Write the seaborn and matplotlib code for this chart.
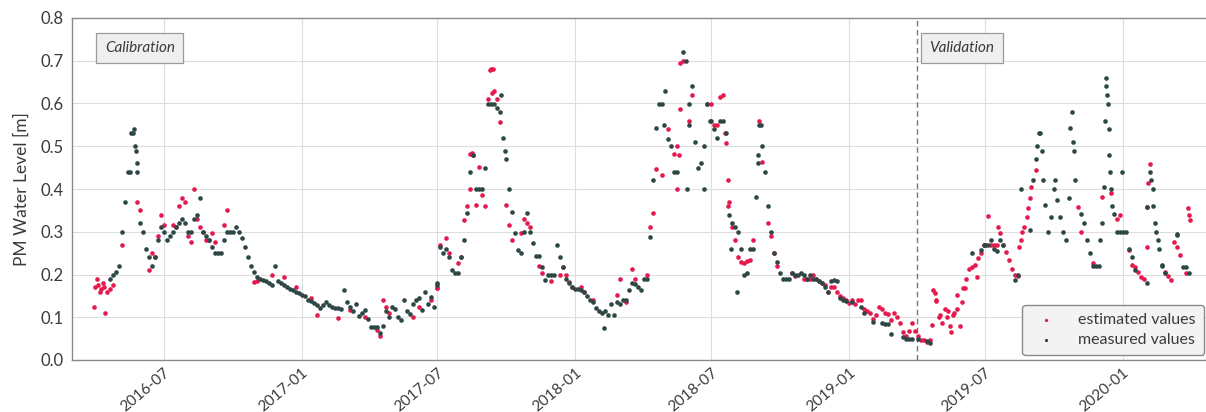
import numpy as np
import pandas as pd
import matplotlib
matplotlib.use("Agg")
import matplotlib.pyplot as plt
import matplotlib.dates as mdates
import seaborn as sns

NA = np.nan

# Water level readings on a 4-day grid, one list per half year (start date first)
seg_starts = ["2016-04-01", "2016-07-01", "2017-01-01", "2017-07-01", "2018-01-01",
              "2018-07-01", "2019-01-01", "2019-07-01", "2020-01-01"]

measured_2016a = [NA, NA, NA, NA, NA, 0.19, 0.20, 0.205, 0.22, 0.30, 0.37, 0.44, 0.53, 0.54, 0.44,
                  0.32, 0.30, 0.26, 0.24, 0.22, 0.24, 0.28, 0.31]
measured_2016b = [0.30, 0.28, 0.29, 0.30, 0.31, 0.32, 0.33, 0.32, 0.30, 0.30,
                  0.33, 0.34, 0.38, 0.30, 0.29, 0.28, 0.265, 0.25, 0.25, 0.25,
                  0.28, 0.30, 0.30, 0.30, 0.31, 0.30, 0.285, 0.265, 0.24, 0.22,
                  0.205, 0.195, 0.19, 0.187, 0.185, 0.18, 0.175, 0.22, 0.185, 0.18,
                  0.175, 0.17, 0.165, 0.163, 0.16, 0.157]
measured_2017a = [0.152, 0.15, 0.14, 0.137, 0.133, 0.128, 0.122, 0.128, 0.135, 0.128,
                  0.124, 0.122, 0.122, 0.12, 0.164, 0.135, 0.125, 0.115, 0.13, 0.102,
                  0.11, 0.117, 0.095, 0.078, 0.078, 0.078, 0.062, 0.08, 0.115, 0.10,
                  0.125, 0.12, 0.10, 0.094, 0.14, 0.115, 0.108, 0.13, 0.14, 0.145,
                  0.117, 0.16, 0.13, 0.148, 0.125, 0.175]
measured_2017b = [0.18, 0.265, 0.25, 0.26, 0.24, 0.21, 0.203, 0.203, 0.24, 0.28,
                  0.345, 0.44, 0.48, 0.40, 0.40, 0.40, 0.45, 0.60, 0.60, 0.60,
                  0.59, 0.58, 0.52, 0.47, 0.40, 0.346, 0.296, 0.257, 0.25, 0.30,
                  0.345, 0.30, 0.273, 0.243, 0.243, 0.217, 0.187, 0.20, 0.20, 0.20,
                  0.27, 0.24, 0.217, 0.19, 0.18, 0.17]
measured_2018a = [0.165, 0.165, 0.164, 0.16, 0.15, 0.14, 0.136, 0.121, 0.115, 0.11,
                  0.115, 0.105, 0.13, 0.105, 0.136, 0.13, 0.14, 0.14, 0.164, 0.18,
                  0.177, 0.17, 0.164, 0.19, 0.19, 0.288, 0.42, 0.542, 0.60, 0.60,
                  0.63, 0.518, 0.50, 0.44, 0.44, NA, 0.72, 0.70, 0.60, 0.64,
                  0.51, 0.45, 0.46, 0.50, 0.60, 0.56]
measured_2018b = [0.56, 0.54, 0.52, 0.56, 0.56, 0.53, 0.34, 0.32, 0.31, 0.30,
                  0.26, 0.20, 0.203, 0.26, 0.26, 0.382, 0.55, 0.50, 0.44, 0.36,
                  0.30, 0.25, 0.23, 0.203, 0.19, 0.19, 0.19, 0.203, 0.20, 0.20,
                  0.203, 0.20, 0.19, 0.20, 0.19, 0.19, 0.185, 0.18, 0.17, 0.16,
                  0.185, 0.186, 0.185, 0.145, 0.14, 0.137]
measured_2019a = [NA, 0.135, NA, NA, 0.125, 0.11, NA, NA, 0.09, NA,
                  NA, 0.086, 0.085, 0.085, 0.06, NA, NA, NA, 0.053, 0.05,
                  0.05, 0.05, NA, 0.05, NA, NA, 0.045, 0.04, NA, NA,
                  NA, NA, NA, NA, NA, NA, NA, NA, NA, NA,
                  NA, 0.25, NA, NA, 0.257, 0.27]
measured_2019b = [0.27, 0.27, 0.28, 0.26, 0.255, 0.28, 0.27, NA, NA, NA,
                  0.187, 0.20, 0.40, NA, NA, 0.304, 0.42, 0.47, 0.53, 0.49,
                  0.363, 0.30, 0.335, 0.40, 0.375, 0.335, 0.30, 0.28, 0.38, 0.58,
                  0.42, NA, 0.342, 0.32, 0.28, 0.25, 0.22, 0.22, 0.22, 0.32,
                  0.56, 0.60, 0.40, 0.342, 0.30, 0.30]
measured_2020a = [0.30, 0.30, 0.26, 0.24, 0.21, NA, NA, NA, 0.18, 0.44,
                  0.36, 0.30, 0.26, 0.22, 0.203, NA, NA, NA, 0.292, NA,
                  0.218, 0.218, 0.203]

estimated_2016a = [0.17, 0.175, 0.165, 0.17, 0.16, 0.165, 0.175, NA, NA, 0.27, NA, NA, NA, NA, 0.37,
                   0.35, NA, NA, 0.21, 0.25, 0.24, 0.29, 0.34]
estimated_2016b = [0.315, NA, NA, 0.316, 0.31, 0.36, 0.38, 0.37, 0.29, 0.275,
                   0.40, 0.33, 0.31, 0.30, 0.28, 0.28, 0.296, 0.275, NA, NA,
                   0.315, 0.35, NA, NA, NA, NA, NA, NA, NA, NA,
                   0.183, 0.185, NA, NA, NA, NA, 0.20, NA, NA, NA,
                   0.195, NA, NA, NA, 0.17, NA]
estimated_2017a = [NA, NA, NA, 0.146, NA, 0.105, NA, NA, NA, NA,
                   NA, NA, 0.098, NA, NA, NA, 0.118, NA, NA, NA,
                   NA, 0.10, NA, NA, NA, 0.07, 0.055, 0.14, 0.125, 0.11,
                   NA, NA, NA, NA, NA, NA, NA, 0.10, NA, 0.125,
                   NA, NA, NA, 0.14, NA, 0.168]
estimated_2017b = [0.168, 0.27, NA, 0.285, 0.25, NA, NA, 0.227, 0.24, 0.327,
                   0.36, 0.40, 0.48, 0.362, 0.452, 0.385, 0.36, 0.61, 0.68, 0.63,
                   0.61, 0.557, NA, 0.363, 0.316, 0.28, NA, NA, 0.296, 0.33,
                   0.32, 0.31, NA, NA, 0.22, 0.203, NA, NA, 0.185, NA,
                   NA, 0.20, 0.217, 0.20, 0.183, 0.17]
estimated_2018a = [NA, NA, 0.17, 0.16, NA, NA, 0.14, NA, NA, NA,
                   NA, NA, NA, NA, 0.152, 0.19, NA, 0.136, NA, 0.214,
                   0.19, NA, NA, NA, 0.20, 0.31, 0.343, 0.447, NA, NA,
                   NA, 0.54, NA, 0.483, 0.50, 0.694, 0.70, NA, 0.56, 0.62,
                   NA, NA, NA, NA, 0.60, NA]
estimated_2018b = [0.60, 0.55, 0.55, 0.616, 0.62, 0.507, 0.37, 0.312, 0.28, 0.242,
                   0.23, 0.226, 0.232, 0.235, 0.28, NA, 0.56, 0.464, NA, 0.32,
                   0.29, 0.25, 0.22, NA, NA, NA, NA, 0.203, 0.197, NA,
                   NA, 0.19, 0.19, 0.19, 0.20, 0.19, 0.185, 0.18, 0.175, 0.16,
                   0.17, 0.17, 0.16, 0.15, 0.145, 0.14]
estimated_2019a = [0.133, 0.14, 0.13, 0.14, 0.14, 0.12, 0.115, 0.11, 0.095, 0.105,
                   0.123, 0.12, 0.11, 0.107, 0.093, 0.11, 0.10, 0.086, 0.066, 0.055,
                   0.067, 0.086, 0.067, 0.055, 0.047, 0.047, 0.043, 0.047, 0.164, 0.14,
                   0.10, 0.086, 0.12, 0.115, 0.066, 0.11, 0.152, 0.08, 0.168, 0.19,
                   0.214, 0.217, 0.223, 0.238, 0.25, 0.27]
estimated_2019b = [0.27, 0.337, 0.27, 0.27, 0.268, 0.297, 0.27, 0.253, 0.235, 0.214,
                   0.20, 0.196, 0.28, 0.31, 0.335, 0.378, NA, 0.444, NA, NA,
                   NA, NA, NA, NA, NA, NA, NA, NA, NA, NA,
                   NA, 0.358, 0.30, NA, NA, NA, 0.226, NA, NA, 0.382,
                   NA, NA, 0.39, NA, 0.33, 0.34]
estimated_2020a = [NA, NA, 0.257, 0.222, 0.218, 0.207, 0.195, 0.19, 0.265, 0.458,
                   NA, NA, NA, NA, 0.205, 0.197, 0.187, 0.277, 0.265, 0.245,
                   NA, 0.203, 0.34]

# Single readings between grid days
measured_extra_dates = ["2016-05-17", "2016-05-21", "2016-05-24", "2016-05-25", "2016-05-26",
                        "2017-09-24", "2017-09-29",
                        "2018-02-08", "2018-04-29", "2018-05-30", "2018-06-02", "2018-06-21",
                        "2018-07-27", "2018-08-04", "2018-09-01", "2018-09-02", "2018-09-05",
                        "2019-09-09", "2019-09-12", "2019-09-17", "2019-10-03", "2019-10-23",
                        "2019-10-27", "2019-10-28", "2019-12-02", "2019-12-07", "2019-12-09",
                        "2019-12-10", "2019-12-11", "2019-12-13", "2019-12-14", "2019-12-15",
                        "2019-12-18", "2019-12-31",
                        "2020-02-02", "2020-02-08", "2020-02-10", "2020-02-13", "2020-02-17",
                        "2020-02-22", "2020-03-13"]
measured_extra_values = [0.44, 0.53, 0.50, 0.49, 0.46,
                         0.62, 0.49,
                         0.074, 0.55, 0.40, 0.55, 0.40,
                         0.26, 0.16, 0.46, 0.48, 0.55,
                         0.50, 0.53, 0.42, 0.42, 0.542,
                         0.51, 0.49, 0.28, 0.405, 0.64,
                         0.66, 0.62, 0.54, 0.48, 0.44,
                         0.36, 0.44,
                         0.358, 0.42, 0.40, 0.32, 0.28,
                         0.222, 0.295]

estimated_extra_dates = ["2016-03-30", "2016-04-03", "2016-04-07", "2016-04-11", "2016-04-14",
                         "2017-08-14", "2017-08-16", "2017-09-09", "2017-09-12", "2017-09-13",
                         "2018-04-26", "2018-05-17", "2018-05-19", "2018-05-21",
                         "2018-07-19", "2018-07-23", "2018-07-24",
                         "2019-04-21", "2019-04-26", "2019-04-27", "2019-05-02", "2019-05-11",
                         "2019-05-16", "2019-05-20", "2019-05-25", "2019-05-31", "2019-06-05",
                         "2019-06-20",
                         "2019-07-19", "2019-08-16", "2019-08-20", "2019-08-28", "2019-08-31",
                         "2020-02-02", "2020-02-04", "2020-03-28", "2020-03-30"]
estimated_extra_values = [0.125, 0.19, 0.16, 0.18, 0.11,
                          0.483, 0.485, 0.678, 0.625, 0.68,
                          0.433, 0.40, 0.48, 0.587,
                          0.53, 0.42, 0.36,
                          0.082, 0.156, 0.137, 0.105, 0.10,
                          0.08, 0.105, 0.12, 0.136, 0.168,
                          0.195,
                          0.312, 0.265, 0.30, 0.355, 0.405,
                          0.358, 0.413, 0.355, 0.327]

measured_segments = [measured_2016a, measured_2016b, measured_2017a, measured_2017b, measured_2018a,
                     measured_2018b, measured_2019a, measured_2019b, measured_2020a]
estimated_segments = [estimated_2016a, estimated_2016b, estimated_2017a, estimated_2017b,
                      estimated_2018a, estimated_2018b, estimated_2019a, estimated_2019b,
                      estimated_2020a]

validation_start = "2019-04-01"


def build_frame(segments, extra_dates, extra_values):
    parts = []
    for start, vals in zip(seg_starts, segments):
        parts.append(pd.DataFrame({"date": pd.date_range(start, periods=len(vals), freq="4D"),
                                   "level": vals}))
    parts.append(pd.DataFrame({"date": pd.to_datetime(extra_dates), "level": extra_values}))
    return pd.concat(parts, ignore_index=True).dropna().sort_values("date")


measured = build_frame(measured_segments, measured_extra_dates, measured_extra_values)
estimated = build_frame(estimated_segments, estimated_extra_dates, estimated_extra_values)

sns.set_theme(style="whitegrid")
plt.rcParams["font.family"] = ["Lato", "DejaVu Sans"]

RED = "#e5194d"
DARK = "#2c4746"
TEXT = "#3a3a3a"

fig = plt.figure(figsize=(12.06, 4.12), dpi=100)
ax = fig.add_axes([72 / 1206, 52 / 412, 1134 / 1206, 342 / 412])

sns.scatterplot(data=estimated, x="date", y="level", color=RED, s=11, linewidth=0,
                label="estimated values", ax=ax, zorder=3)
sns.scatterplot(data=measured, x="date", y="level", color=DARK, s=11, linewidth=0,
                label="measured values", ax=ax, zorder=4)

ax.axvline(pd.Timestamp(validation_start), color="#777777", lw=1.0, ls=(0, (4, 2.5)), zorder=2)

ax.set_xlim(pd.Timestamp("2016-03-01"), pd.Timestamp("2020-04-21"))
ax.set_ylim(0.0, 0.8)
ax.set_yticks(np.arange(0, 0.81, 0.1))
ax.yaxis.set_major_formatter(matplotlib.ticker.FormatStrFormatter("%.1f"))
ax.xaxis.set_major_locator(mdates.MonthLocator(bymonth=[1, 7]))
ax.xaxis.set_major_formatter(mdates.DateFormatter("%Y-%m"))

ax.set_xlabel("")
ax.set_ylabel("PM Water Level [m]", fontsize=12.5, color=TEXT, labelpad=8)
ax.tick_params(axis="y", length=0, labelsize=12, labelcolor=TEXT, pad=6)
ax.tick_params(axis="x", length=3, color="#666666", labelsize=11, labelcolor=TEXT, pad=1)
for lab in ax.get_xticklabels():
    lab.set_rotation(40)
    lab.set_ha("right")
    lab.set_rotation_mode("anchor")

ax.grid(True, color="#dedede", lw=0.8)
ax.set_axisbelow(True)
for side in ["left", "top", "bottom"]:
    ax.spines[side].set_color("#8a8a8a")
    ax.spines[side].set_linewidth(1.0)
ax.spines["right"].set_visible(False)

box = dict(boxstyle="square,pad=0.55", facecolor="#efefef", edgecolor="#9a9a9a", lw=0.9)
ax.text(0.029, 0.912, "Calibration", transform=ax.transAxes, fontsize=11, style="italic",
        color=TEXT, va="center", ha="left", bbox=box)
ax.text(0.756, 0.912, "Validation", transform=ax.transAxes, fontsize=11, style="italic",
        color=TEXT, va="center", ha="left", bbox=box)

leg = ax.legend(loc="lower right", fontsize=11.5, frameon=True, fancybox=True,
                markerscale=0.7, handletextpad=1.0, borderpad=0.5, labelspacing=0.35,
                borderaxespad=0.0, bbox_to_anchor=(0.998, 0.015))
leg.get_frame().set_facecolor("#f3f3f3")
leg.get_frame().set_edgecolor("#8a8a8a")
leg.get_frame().set_alpha(1.0)
for t in leg.get_texts():
    t.set_color(TEXT)

fig.savefig("out.png", dpi=100)
